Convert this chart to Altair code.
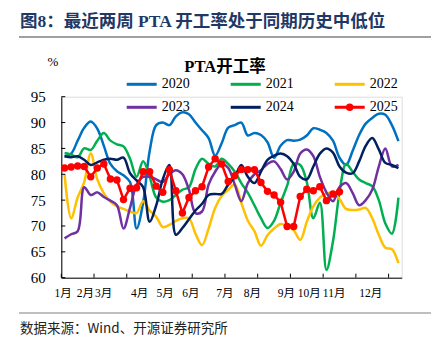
import altair as alt
import pandas as pd

years = ["2020", "2021", "2022", "2023", "2024", "2025"]
colors = ["#0070C0", "#00B050", "#FFC000", "#7030A0", "#002060", "#FF0000"]

v2020 = [83.5, 84.0, 86.5, 89.0, 90.2, 88.8, 85.5, 82.0, 80.6, 79.8, 78.5, 69.5, 74.5, 84.5, 89.5, 90.0, 89.5, 91.2, 92.0, 91.6,
         90.0, 88.5, 87.0, 83.6, 86.0, 89.0, 89.5, 90.0, 87.5, 88.0, 87.6, 86.2, 83.2, 85.5, 86.6, 86.5, 86.7, 87.5, 88.9, 88.6,
         88.0, 86.5, 83.2, 81.8, 84.5, 87.6, 89.8, 90.9, 91.7, 91.5, 89.5, 86.4]
v2021 = [84.1, 83.8, 83.3, 85.0, 84.7, 86.5, 88.0, 86.5, 85.8, 85.4, 83.0, 79.5, 82.5, 79.5, 75.5, 74.7, 75.0, 76.0, 77.0, 77.5,
         81.0, 83.0, 82.0, 81.5, 83.0, 82.0, 80.5, 78.3, 76.4, 74.0, 71.5, 69.6, 71.0, 74.5, 77.8, 82.0, 81.8, 78.5, 71.5, 74.5,
         61.5, 67.0, 76.5, 82.0, 80.5, 79.0, 78.3, 77.7, 75.0, 70.5, 68.5, 75.5]
v2022 = [80.0, 71.5, 75.5, 78.5, 84.0, 79.0, 76.3, 74.7, 73.8, 73.3, 72.8, 72.5, 74.8, 73.0, 71.8, 69.8, 70.2, 71.0, 71.5, 71.5,
         68.5, 66.3, 69.5, 73.5, 75.8, 77.0, 78.0, 74.5, 71.0, 69.0, 66.2, 68.2, 69.5, 70.4, 70.0, 69.2, 67.3, 70.8, 73.8, 75.5,
         76.3, 76.3, 75.2, 73.3, 73.1, 73.2, 73.5, 71.5, 68.3, 65.8, 65.5, 62.8]
v2023 = [67.6, 68.4, 69.0, 77.5, 76.0, 76.5, 75.6, 74.9, 74.0, 69.5, 73.5, 78.0, 79.5, 79.5, 79.0, 78.5, 80.0, 80.8, 80.0, 77.0,
         72.5, 72.8, 78.0, 80.5, 82.0, 81.2, 78.0, 74.8, 78.3, 80.0, 80.8, 82.0, 82.5, 81.0, 79.0, 80.5, 84.0, 84.8, 83.5, 79.5,
         76.5, 74.8, 77.5, 78.3, 76.4, 74.0, 75.0, 77.0, 81.5, 85.0, 81.5, 81.8]
v2024 = [83.5, 83.3, 83.5, 82.8, 81.8, 82.3, 82.8, 83.0, 82.8, 83.2, 80.2, 78.8, 77.5, 70.8, 74.0, 79.0, 81.8, 68.3, 69.6, 71.3,
         73.0, 74.3, 76.0, 76.2, 76.2, 78.0, 79.5, 81.8, 79.5, 78.3, 80.5, 82.8, 83.6, 84.0, 83.5, 82.0, 79.5, 79.0, 81.5, 84.0,
         85.0, 84.2, 81.5, 80.3, 80.2, 82.5, 85.5, 87.0, 84.8, 82.2, 81.8, 81.2]
v2025 = [81.2, 81.4, 81.6, 81.5, 79.5, 81.2, 82.0, 79.1, 78.9, 75.1, 77.3, 77.4, 80.5, 80.5, 77.7, 76.5, 80.9, 76.8, 72.5, 75.5,
         76.8, 77.6, 81.4, 83.0, 82.0, 78.6, 79.7, 80.9, 80.9, 80.9, 78.4, 76.7, 76.0, 74.6, 69.9, 69.9, 75.7, 77.1, 76.8, 77.6,
         74.9, 76.2, 76.6]

month_labels = ["1月", "2月", "3月", "4月", "5月", "6月", "7月", "8月", "9月", "10月", "11月", "12月"]
month_pos = [0.2, 3.6, 6.4, 11.9, 15.8, 19.7, 24.9, 29.1, 34.3, 37.8, 41.6, 47.2]
x_ticks = [0, 5, 10, 15, 20, 25, 30, 35, 40, 45, 50]
y_ticks = [60, 65, 70, 75, 80, 85, 90, 95]

headline = "图8：最近两周 PTA 开工率处于同期历史中低位"
chart_title = "PTA开工率"
unit = "%"
source = "数据来源：Wind、开源证券研究所"

series = dict(zip(years, [v2020, v2021, v2022, v2023, v2024, v2025]))
rows = []
for y in years[:5]:
    for i, v in enumerate(series[y]):
        rows.append({"year": y, "week": i + 0.5, "value": v})
df_smooth = pd.DataFrame(rows)
df_25 = pd.DataFrame({"year": "2025", "week": [i + 0.5 for i in range(len(v2025))], "value": v2025})

W, H = 340.4, 181
PL, PT = 61.3, 96.7
SERIF = "Liberation Serif, Noto Sans CJK SC"
CJK = "Noto Sans CJK SC"

xs = alt.Scale(domain=[0, 52], nice=False, zero=False)
ys = alt.Scale(domain=[60, 95], nice=False, zero=False)

label_expr = "[" + ",".join("'%s'" % m for m in month_labels) + "][indexof([" + \
    ",".join(str(p) for p in month_pos) + "], datum.value)]"

xaxis = alt.Axis(values=month_pos, labelExpr=label_expr, ticks=False, grid=False, title=None,
                 domainColor="#000000", domainWidth=1, labelFont=SERIF, labelFontSize=11.5,
                 labelColor="#000000", labelPadding=10, labelFlush=False, labelOverlap=False)
yaxis = alt.Axis(values=y_ticks, ticks=False, grid=False, title=None, domainColor="#000000",
                 domainWidth=1, labelFont=SERIF, labelFontSize=15, labelColor="#000000",
                 labelPadding=16, labelOverlap=False)

dot_path = "M-2,0H2M0.3,0A0.3,0.3,0,1,1,-0.3,0A0.3,0.3,0,1,1,0.3,0"
legend = alt.Legend(
    title=None, orient="none", legendX=71.4, legendY=-21.4, columns=3, direction="horizontal",
    symbolType={"expr": "datum.value == '2025' ? '%s' : 'M-2,0H2'" % dot_path},
    symbolSize=225, symbolStrokeWidth=3, labelFont=SERIF, labelFontSize=14, labelColor="#000000",
    labelOffset=11, columnPadding=35, rowPadding=7, padding=0,
)

color_scale = alt.Scale(domain=years, range=colors)

X = alt.X("week:Q", scale=xs, axis=xaxis)
Y = alt.Y("value:Q", scale=ys, axis=yaxis)

lines = alt.Chart(df_smooth).mark_line(strokeWidth=2.5, interpolate="catmull-rom").encode(
    x=X, y=Y, color=alt.Color("year:N", scale=color_scale, legend=legend))
line25 = alt.Chart(df_25).mark_line(strokeWidth=2.5, color="#FF0000").encode(x=X, y=Y)
pts25 = alt.Chart(df_25).mark_circle(size=55, color="#FF0000", opacity=1).encode(x=X, y=Y)

xt = alt.Chart(pd.DataFrame({"week": x_ticks})).mark_rule(color="#000000", strokeWidth=1).encode(
    x=X, y=alt.value(H), y2=alt.value(H - 4))
yt = alt.Chart(pd.DataFrame({"value": y_ticks})).mark_rule(color="#000000", strokeWidth=1).encode(
    y=Y, x=alt.value(0), x2=alt.value(4))


def text_layer(txt, x, y, **kw):
    return alt.Chart(pd.DataFrame({"t": [txt]})).mark_text(**kw).encode(
        text="t:N", x=alt.value(x), y=alt.value(y))


head = text_layer(headline, 20 - PL, 22 - PT, align="left", baseline="middle", font=SERIF,
                  fontSize=17.5, fontWeight="bold", color="#1F3864")
ttl = text_layer(chart_title, 225 - PL, 67 - PT, align="center", baseline="middle", font=SERIF,
                 fontSize=16.5, fontWeight="bold", color="#000000")
pct = text_layer(unit, 53 - PL, 62 - PT, align="center", baseline="middle", font=SERIF,
                 fontSize=13, color="#000000")
src = text_layer(source, 20 - PL, 329 - PT, align="left", baseline="middle", font=CJK,
                 fontSize=13.5, color="#222222")

rule_df = pd.DataFrame({"a": [0]})
head_rule = alt.Chart(rule_df).mark_rule(color="#808080", strokeWidth=1.5).encode(
    x=alt.value(19 - PL), x2=alt.value(431 - PL), y=alt.value(37 - PT))
foot_rule = alt.Chart(rule_df).mark_rule(color="#808080", strokeWidth=1.2).encode(
    x=alt.value(19 - PL), x2=alt.value(431 - PL), y=alt.value(313 - PT))

chart = alt.layer(lines, line25, pts25, xt, yt, head, ttl, pct, src, head_rule, foot_rule).properties(
    width=W, height=H, autosize="none",
    padding={"left": PL, "top": PT, "right": 437 - PL - W, "bottom": 343 - PT - H},
).configure_view(stroke=None).configure(background="#FFFFFF")

chart.save("out.html", embed_options={"renderer": "svg", "actions": False})
